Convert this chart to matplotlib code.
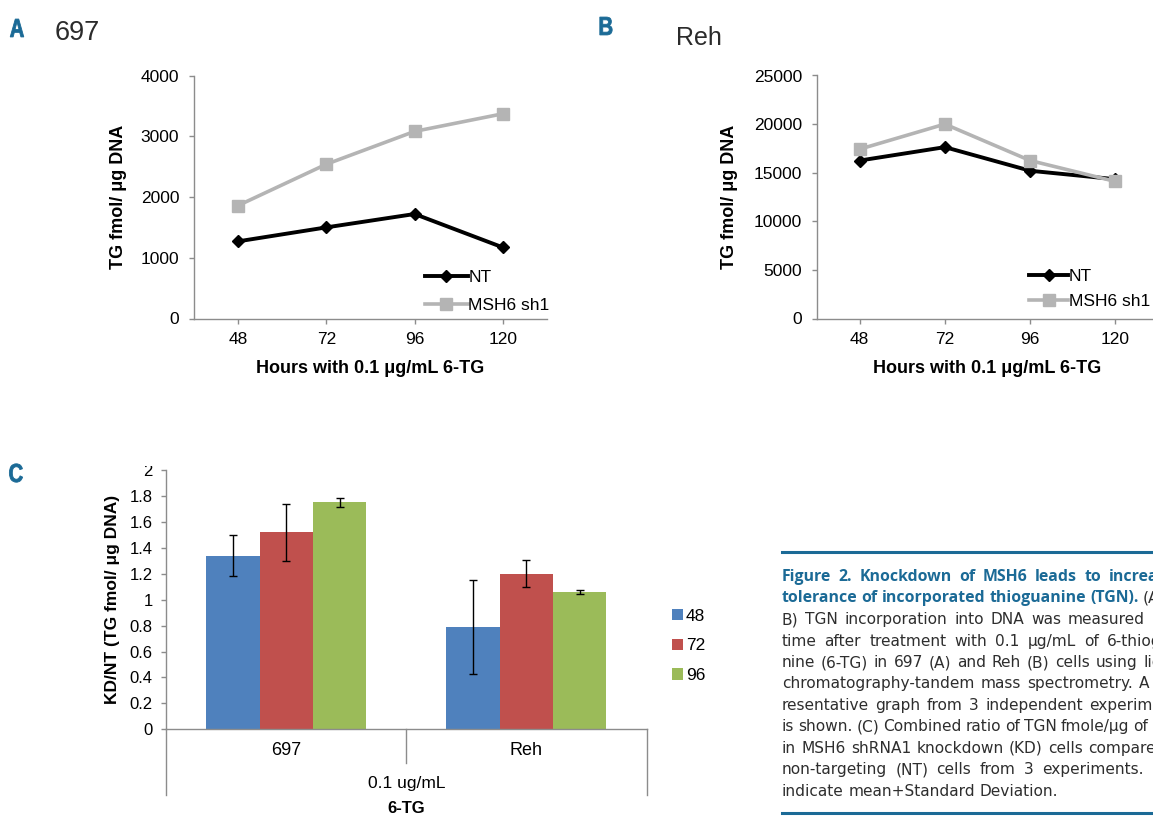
import numpy as np
import matplotlib
matplotlib.use('Agg')
import matplotlib.pyplot as plt
from matplotlib.lines import Line2D
from matplotlib.transforms import Bbox, Affine2D, IdentityTransform
from matplotlib.textpath import TextPath
from matplotlib.patches import PathPatch
from matplotlib.font_manager import FontProperties

# data
hours = ['48', '72', '96', '120']
nt_697 = [1270, 1500, 1720, 1170]
sh1_697 = [1860, 2540, 3080, 3370]
nt_reh = [16250, 17630, 15200, 14330]
sh1_reh = [17420, 20000, 16250, 14100]

cell_lines = ['697', 'Reh']
ratio_48 = [1.34, 0.79]
ratio_72 = [1.52, 1.20]
ratio_96 = [1.75, 1.06]
sd_48 = [0.155, 0.36]
sd_72 = [0.22, 0.105]
sd_96 = [0.036, 0.018]

caption_title = ['Figure 2. Knockdown of MSH6 leads to increased',
                 'tolerance of incorporated thioguanine (TGN).']
caption_body = [
    '(A,',
    'B) TGN incorporation into DNA was measured over',
    'time after treatment with 0.1 \u03bcg/mL of 6-thiogua-',
    'nine (6-TG) in 697 (A) and Reh (B) cells using liquid',
    'chromatography-tandem mass spectrometry. A rep-',
    'resentative graph from 3 independent experiments',
    'is shown. (C) Combined ratio of TGN fmole/\u03bcg of DNA',
    'in MSH6 shRNA1 knockdown (KD) cells compared to',
    'non-targeting (NT) cells from 3 experiments. Bars',
    'indicate mean+Standard Deviation.',
]

W, H = 1153, 817
BLUE = '#1b6a96'
GREY_AX = '#8c8c8c'
GREY_LINE = '#b4b4b4'
TXT = '#2e2e2e'
plt.rcParams['font.family'] = ['Liberation Sans', 'DejaVu Sans']

fig = plt.figure(figsize=(W / 100, H / 100), dpi=100)


def px_axes(left, top, right, bottom):
    return fig.add_axes([left / W, 1 - bottom / H, (right - left) / W, (bottom - top) / H])


def line_panel(ax, nt, sh1, ymax, ystep, ylab_x, leg_x, leg_y, hl, ls):
    x = np.arange(len(hours))
    ax.plot(x, nt, color='black', lw=2.8, marker='D', ms=6, label='NT', zorder=3)
    ax.plot(x, sh1, color=GREY_LINE, lw=2.6, marker='s', ms=9, label='MSH6 sh1', zorder=4)
    ax.set_xlim(-0.5, len(hours) - 0.5)
    ax.set_ylim(0, ymax)
    ax.set_yticks(np.arange(0, ymax + 1, ystep))
    ax.set_xticks(x)
    ax.set_xticklabels(hours)
    for s in ['top', 'right']:
        ax.spines[s].set_visible(False)
    for s in ['left', 'bottom']:
        ax.spines[s].set_color(GREY_AX)
        ax.spines[s].set_linewidth(1.0)
    ax.tick_params(axis='both', direction='out', length=3.6, width=1, color=GREY_AX,
                   labelsize=12.5, labelcolor='black')
    ax.tick_params(axis='y', pad=7)
    ax.tick_params(axis='x', pad=6)
    ax.set_xlabel('Hours with 0.1 \u03bcg/mL 6-TG', fontweight='bold', fontsize=13)
    ax.xaxis.set_label_coords(0.5, -0.17)
    ax.set_ylabel('TG fmol/ \u03bcg DNA', fontweight='bold', fontsize=13)
    ax.yaxis.set_label_coords(ylab_x, 0.5)
    ax.legend(loc='center left', bbox_to_anchor=(leg_x / W, 1 - leg_y / H),
              bbox_transform=fig.transFigure, frameon=False, fontsize=12.5,
              handlelength=hl, handletextpad=0.05, labelspacing=ls,
              borderpad=0, borderaxespad=0)


# panel A
ax_a = px_axes(194, 75.5, 547, 318.5)
line_panel(ax_a, nt_697, sh1_697, 4000, 1000, -0.19, 425, 291.5, 2.45, 0.75)

# panel B (cropped at the right edge of the page)
ax_b = px_axes(817, 75.5, 1158, 318.5)
line_panel(ax_b, nt_reh, sh1_reh, 25000, 5000, -0.2325, 1029, 289, 2.25, 0.55)

# panel C
ax_c = px_axes(166.2, 470, 646.5, 729.3)
xc = np.arange(len(cell_lines))
bw = 0.222
ekw = dict(ecolor='black', elinewidth=1, capsize=3, capthick=1)
ax_c.bar(xc - bw, ratio_48, bw, yerr=sd_48, color='#4f81bd', label='48', error_kw=ekw)
ax_c.bar(xc, ratio_72, bw, yerr=sd_72, color='#c0504d', label='72', error_kw=ekw)
ax_c.bar(xc + bw, ratio_96, bw, yerr=sd_96, color='#9bbb59', label='96', error_kw=ekw)
ax_c.set_xlim(-0.5, len(cell_lines) - 0.5)
ax_c.set_ylim(0, 2)
yt = np.round(np.arange(0, 2.01, 0.2), 1)
ax_c.set_yticks(yt)
ax_c.set_yticklabels(['%g' % v for v in yt])
ax_c.set_xticks(xc)
ax_c.set_xticklabels(cell_lines)
for s in ['top', 'right']:
    ax_c.spines[s].set_visible(False)
for s in ['left', 'bottom']:
    ax_c.spines[s].set_color(GREY_AX)
    ax_c.spines[s].set_linewidth(1.0)
ax_c.tick_params(axis='y', direction='out', length=3.6, width=1, color=GREY_AX,
                 labelsize=12, pad=6)
ax_c.tick_params(axis='x', length=0, labelsize=13, pad=9)
ax_c.set_ylabel('KD/NT (TG fmol/ \u03bcg DNA)', fontweight='bold', fontsize=12.5)
ax_c.yaxis.set_label_coords(-0.0955, 0.5)

# multi-level category axis lines
bounds = np.arange(len(cell_lines) + 1) - 0.5
xtr = ax_c.get_xaxis_transform()
for i, b in enumerate(bounds):
    depth = -0.2545 if i in (0, len(bounds) - 1) else -0.129
    ax_c.plot([b, b], [0, depth], color=GREY_AX, lw=1.0, transform=xtr, clip_on=False)
ax_c.text(np.mean(xc), -0.208, '0.1 ug/mL', transform=xtr, ha='center', va='center',
          fontsize=12.5)
ax_c.text(np.mean(xc), -0.307, '6-TG', transform=xtr, ha='center', va='center',
          fontsize=12, fontweight='bold')

ax_c.legend(loc='center left', bbox_to_anchor=(672 / W, 1 - 646 / H),
            bbox_transform=fig.transFigure, frameon=False, fontsize=12.5,
            handlelength=0.65, handleheight=0.65, handletextpad=0.15,
            labelspacing=0.85, borderpad=0, borderaxespad=0)

# top of the "2" label is cut off in the original
top_lab = ax_c.yaxis.get_major_ticks()[-1].label1
top_lab.set_clip_on(True)
top_lab.set_clip_box(Bbox.from_extents(0, 0, W, H - 466))

# panel letters: condensed bold, drawn as squeezed text paths
letter_prop = FontProperties(family='Liberation Sans', weight='bold')
for lab, px, py in [('A', 17, 28), ('B', 606, 26), ('C', 16, 473)]:
    tp = TextPath((0, 0), lab, size=26, prop=letter_prop)
    bb = tp.get_extents()
    tr = Affine2D().translate(-(bb.x0 + bb.x1) / 2, -(bb.y0 + bb.y1) / 2) \
        .scale(0.78, 1.0).translate(px, H - py)
    fig.add_artist(PathPatch(tr.transform_path(tp), transform=IdentityTransform(),
                             color=BLUE, lw=0.6))

fig.text(55 / W, 1 - 33 / H, '697', fontsize=19.5, color='#2b2b2b', ha='left', va='center')
fig.text(676 / W, 1 - 38 / H, 'Reh', fontsize=18, color='#2b2b2b', ha='left', va='center')

# caption box
fig.add_artist(Line2D([781.7 / W, 1], [1 - 551.7 / H] * 2, color=BLUE, lw=2.2,
                      transform=fig.transFigure))
fig.add_artist(Line2D([781.7 / W, 1], [1 - 812.7 / H] * 2, color=BLUE, lw=2.2,
                      transform=fig.transFigure))

r = fig.canvas.get_renderer()
body_style = dict(family=['DejaVu Sans'], color=TXT)
title_style = dict(family=['Open Sans', 'DejaVu Sans'], color=BLUE, fontweight='bold')


def text_width(s, size, style):
    t = fig.text(0, 0, s, fontsize=size, **style)
    w = t.get_window_extent(renderer=r).width
    t.remove()
    return w


# font sizes chosen so the unjustified runs span as on the page
body_size = 10 * 276 / text_width(caption_body[-1], 10, body_style)
title_size = 10 * 358 / text_width(caption_title[1], 10, title_style)
col_left, col_right = 781.7, 1186
line_y = [576.7 + 21.45 * i for i in range(len(caption_body) + 1)]

# words with their styles, one list per printed line
lines = [[(w, title_size, title_style) for w in caption_title[0].split()],
         [(w, title_size, title_style) for w in caption_title[1].split()]
         + [(caption_body[0], body_size, body_style)]]
for s in caption_body[1:]:
    lines.append([(w, body_size, body_style) for w in s.split()])

space = text_width('a a', body_size, body_style) - text_width('aa', body_size, body_style)
tspace = text_width('a a', title_size, title_style) - text_width('aa', title_size, title_style)
for i, words in enumerate(lines):
    widths = [text_width(w, sz, st) for w, sz, st in words]
    if i in (1, len(lines) - 1):
        gap = tspace if i == 1 else space
    else:
        gap = max((col_right - col_left - sum(widths)) / (len(words) - 1), space * 0.6)
    x = col_left
    for (w, sz, st), wd in zip(words, widths):
        fig.text(x / W, 1 - line_y[i] / H, w, fontsize=sz, va='center', ha='left', **st)
        x += wd + gap

fig.savefig('out.png', dpi=100)
